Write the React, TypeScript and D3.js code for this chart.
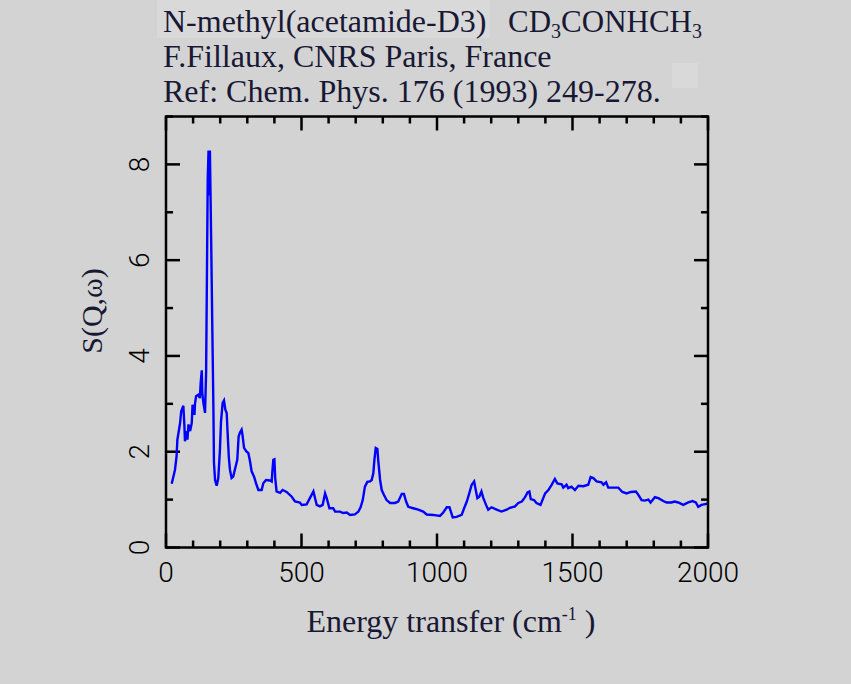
/**
 * INS spectrum of N-methyl(acetamide-D3)
 * D3.js line plot, framed axes with inward ticks
 */

import { useEffect, useRef } from 'react';
import * as d3 from 'd3';

// Energy transfer (cm-1)
const energy = [
  21, 33, 39, 42, 52, 56, 64, 68, 70, 76, 79, 83, 89, 95, 98, 105, 107, 111, 119, 125,
  128, 132, 134, 138, 144, 148, 151, 154, 157, 159, 162, 164, 167, 171, 175, 177, 181, 187, 193, 199,
  203, 209, 214, 219, 224, 227, 232, 236, 242, 248, 257, 263, 268, 273, 279, 282, 288, 296, 304, 310,
  316, 325, 334, 341, 353, 359, 369, 384, 390, 393, 396, 400, 403, 408, 421, 430, 445, 464, 476, 494,
  501, 519, 531, 544, 550, 556, 568, 578, 587, 593, 603, 617, 624, 642, 654, 667, 679, 697, 710, 718,
  726, 734, 743, 753, 759, 765, 769, 774, 780, 783, 790, 796, 804, 814, 827, 845, 857, 870, 878, 886,
  894, 912, 931, 949, 962, 986, 1011, 1023, 1036, 1046, 1050, 1058, 1072, 1091, 1100, 1110, 1119, 1128, 1137, 1143,
  1149, 1156, 1164, 1171, 1181, 1189, 1201, 1220, 1238, 1257, 1269, 1288, 1300, 1313, 1325, 1334, 1341, 1346, 1358, 1367,
  1382, 1392, 1399, 1411, 1423, 1435, 1444, 1460, 1466, 1478, 1484, 1496, 1509, 1522, 1540, 1558, 1567, 1577, 1589, 1607,
  1614, 1624, 1632, 1669, 1684, 1700, 1715, 1734, 1743, 1755, 1767, 1780, 1788, 1804, 1817, 1835, 1847, 1865, 1877, 1890,
  1909, 1927, 1943, 1955, 1964, 1976, 1994, 2000,
];

// S(Q,w)
const intensity = [
  1.33, 1.62, 1.90, 2.25, 2.60, 2.84, 2.96, 2.53, 2.22, 2.43, 2.25, 2.57, 2.43, 2.60, 2.98, 2.77, 3.00, 3.16, 3.19, 3.12,
  3.44, 3.70, 3.22, 3.02, 2.81, 3.65, 5.67, 7.70, 8.29, 7.35, 8.29, 7.50, 6.27, 4.55, 2.88, 1.77, 1.41, 1.29, 1.45, 2.04,
  2.63, 3.02, 3.07, 2.88, 2.81, 2.43, 1.87, 1.62, 1.45, 1.48, 1.69, 1.83, 2.32, 2.40, 2.46, 2.36, 2.08, 2.01, 1.97, 1.80,
  1.59, 1.48, 1.31, 1.20, 1.20, 1.34, 1.41, 1.40, 1.38, 1.62, 1.83, 1.84, 1.45, 1.17, 1.14, 1.20, 1.16, 1.06, 0.96, 0.94,
  0.89, 0.90, 1.03, 1.17, 1.03, 0.89, 0.86, 0.89, 1.13, 1.03, 0.82, 0.82, 0.75, 0.75, 0.72, 0.73, 0.68, 0.69, 0.75, 0.84,
  0.99, 1.27, 1.37, 1.38, 1.41, 1.55, 1.83, 2.08, 2.06, 1.83, 1.41, 1.20, 1.10, 0.99, 0.93, 0.93, 0.96, 1.12, 1.12, 0.96,
  0.85, 0.82, 0.79, 0.75, 0.69, 0.68, 0.66, 0.73, 0.84, 0.84, 0.77, 0.63, 0.64, 0.68, 0.82, 0.96, 1.13, 1.31, 1.38, 1.20,
  1.03, 1.06, 1.17, 1.03, 0.89, 0.79, 0.84, 0.79, 0.75, 0.79, 0.83, 0.86, 0.93, 0.96, 1.05, 1.15, 1.17, 1.01, 0.99, 0.93,
  0.89, 1.03, 1.13, 1.20, 1.31, 1.43, 1.34, 1.32, 1.25, 1.31, 1.24, 1.27, 1.20, 1.29, 1.28, 1.31, 1.47, 1.45, 1.38, 1.36,
  1.31, 1.36, 1.25, 1.25, 1.16, 1.13, 1.16, 1.17, 1.10, 0.99, 0.98, 1.00, 0.94, 1.05, 1.03, 0.97, 0.94, 0.94, 0.96, 0.94,
  0.89, 0.94, 0.97, 0.94, 0.85, 0.89, 0.91, 0.93,
];

const xMajorTicks = [0, 500, 1000, 1500, 2000];
const yMajorTicks = [0, 2, 4, 6, 8];

const titleLines = [
  'N-methyl(acetamide-D3)',
  'F.Fillaux, CNRS Paris, France',
  'Ref: Chem. Phys. 176 (1993) 249-278.',
];

export default function App() {
  const svgRef = useRef<SVGSVGElement>(null);
  const width = 851;
  const height = 684;

  useEffect(() => {
    if (!svgRef.current) return;
    const svg = d3.select(svgRef.current);
    svg.selectAll('*').remove();

    const plot = { left: 166, right: 708, top: 116.5, bottom: 547.5 };
    const ink = '#181834';
    const serif = '"Liberation Serif", "Times New Roman", serif';
    const sans = 'Roboto, "Liberation Sans", Arial, sans-serif';

    // Background
    svg.append('rect').attr('width', width).attr('height', height).attr('fill', '#d3d3d3');
    svg.append('rect').attr('x', 157).attr('y', 0).attr('width', 333).attr('height', 38).attr('fill', '#d9d9d9');
    svg.append('rect').attr('x', 672).attr('y', 63).attr('width', 26).attr('height', 25).attr('fill', '#d9d9d9');

    // Scales
    const x = d3.scaleLinear().domain([0, 2000]).range([plot.left, plot.right]);
    const y = d3.scaleLinear().domain([0, 9]).range([plot.bottom, plot.top]);

    // Ticks (inward on all four sides)
    const ticks = svg.append('g').attr('stroke', '#000').attr('stroke-width', 2.5);
    d3.range(0, 2001, 100).forEach(v => {
      const len = xMajorTicks.includes(v) ? 14 : 7;
      ticks.append('line').attr('x1', x(v)).attr('x2', x(v)).attr('y1', plot.bottom).attr('y2', plot.bottom - len);
      ticks.append('line').attr('x1', x(v)).attr('x2', x(v)).attr('y1', plot.top).attr('y2', plot.top + len);
    });
    d3.range(0, 10, 1).forEach(v => {
      const len = yMajorTicks.includes(v) ? 14 : 7;
      ticks.append('line').attr('y1', y(v)).attr('y2', y(v)).attr('x1', plot.left).attr('x2', plot.left + len);
      ticks.append('line').attr('y1', y(v)).attr('y2', y(v)).attr('x1', plot.right).attr('x2', plot.right - len);
    });

    // Spectrum
    const points: [number, number][] = energy.map((e, i) => [e, intensity[i]]);
    const line = d3.line<[number, number]>()
      .x(d => x(d[0]))
      .y(d => y(d[1]));
    svg.append('path')
      .datum(points)
      .attr('d', line)
      .attr('fill', 'none')
      .attr('stroke', '#0000ff')
      .attr('stroke-width', 2.4)
      .attr('stroke-linejoin', 'miter');

    // Frame
    svg.append('rect')
      .attr('x', plot.left).attr('y', plot.top)
      .attr('width', plot.right - plot.left).attr('height', plot.bottom - plot.top)
      .attr('fill', 'none').attr('stroke', '#000').attr('stroke-width', 2.5);

    // Tick labels
    svg.selectAll('.xlabel')
      .data(xMajorTicks)
      .enter()
      .append('text')
      .attr('x', d => x(d))
      .attr('y', 581.5)
      .attr('text-anchor', 'middle')
      .style('font-family', sans)
      .style('font-weight', '300')
      .style('font-size', '28px')
      .style('fill', '#000')
      .text(d => d);

    svg.selectAll('.ylabel')
      .data(yMajorTicks)
      .enter()
      .append('text')
      .attr('transform', d => `translate(149,${y(d)}) rotate(-90)`)
      .attr('text-anchor', 'middle')
      .style('font-family', sans)
      .style('font-weight', '300')
      .style('font-size', '28px')
      .style('fill', '#000')
      .text(d => d);

    // Axis titles
    const xt = svg.append('text')
      .attr('x', 451)
      .attr('y', 632)
      .attr('text-anchor', 'middle')
      .style('font-family', serif)
      .style('font-size', '32px')
      .style('fill', ink);
    xt.append('tspan').text('Energy transfer (cm');
    xt.append('tspan').attr('dy', -12).style('font-size', '18px').text('-1');
    xt.append('tspan').attr('dy', 12).text(' )');

    svg.append('text')
      .attr('transform', 'translate(102,311) rotate(-90)')
      .attr('text-anchor', 'middle')
      .style('font-family', serif)
      .style('font-size', '30px')
      .style('fill', ink)
      .text('S(Q,\u03c9)');

    // Title block
    const baselines = [32, 67, 102];
    titleLines.forEach((t, i) => {
      svg.append('text')
        .attr('x', 163)
        .attr('y', baselines[i])
        .style('font-family', serif)
        .style('font-size', '32px')
        .style('fill', ink)
        .text(t);
    });

    const formula = svg.append('text')
      .attr('x', 508)
      .attr('y', 32)
      .style('font-family', serif)
      .style('font-size', '31px')
      .style('fill', ink);
    formula.append('tspan').text('CD');
    formula.append('tspan').attr('dy', 6).style('font-size', '20px').text('3');
    formula.append('tspan').attr('dy', -6).text('CONHCH');
    formula.append('tspan').attr('dy', 6).style('font-size', '20px').text('3');
  }, []);

  return (
    <svg
      ref={svgRef}
      width={width}
      height={height}
      style={{ position: 'absolute', left: 0, top: 0, display: 'block' }}
    />
  );
}
